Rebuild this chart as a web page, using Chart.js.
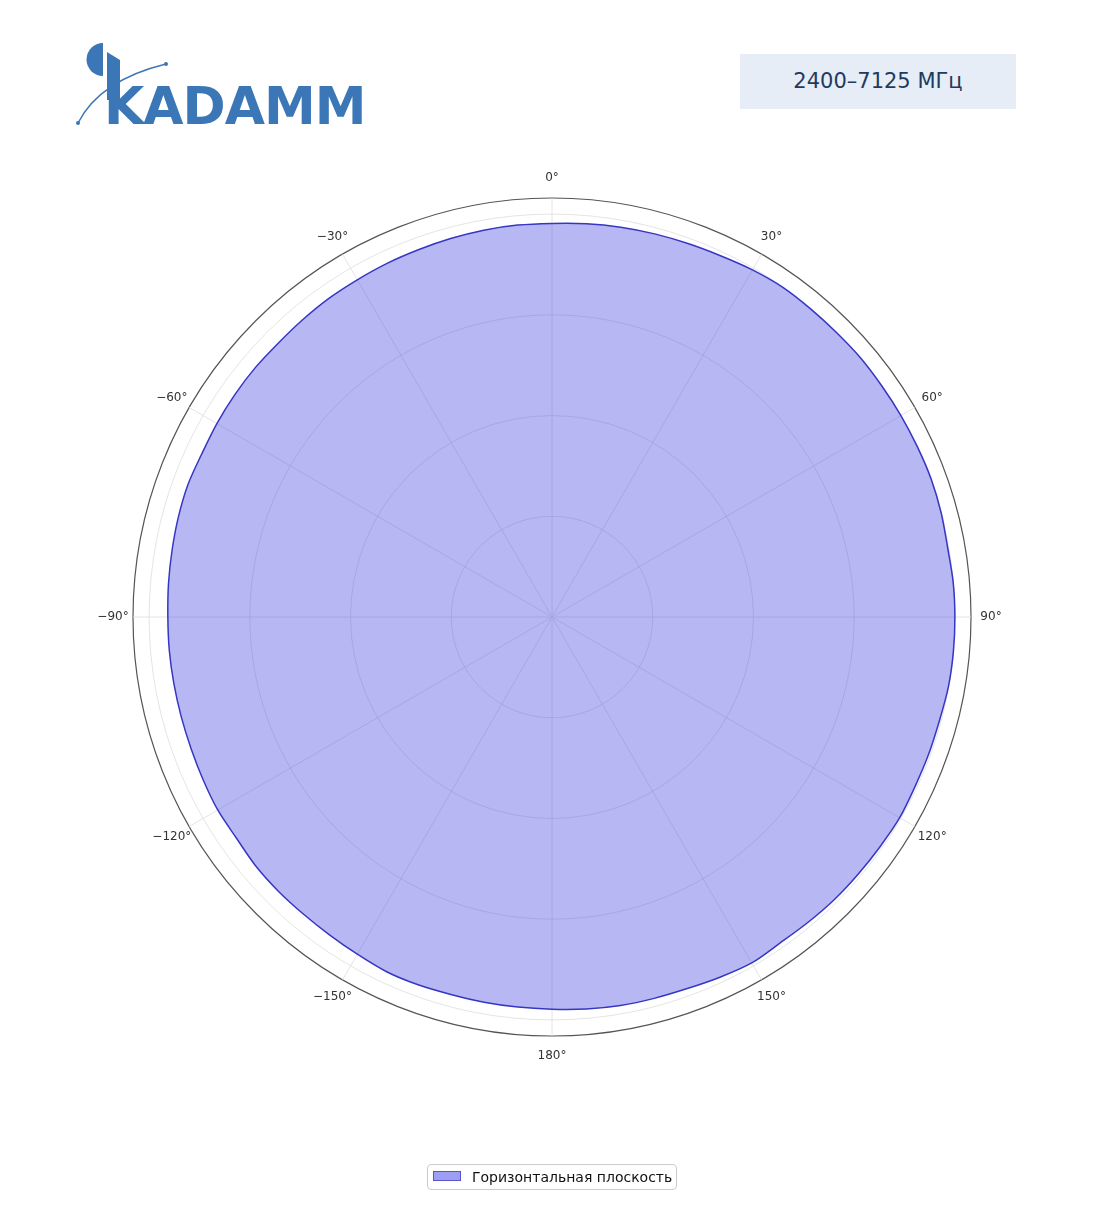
<!DOCTYPE html>
<html>
<head>
<meta charset="utf-8">
<script src="https://cdn.jsdelivr.net/npm/chart.js@4.4.1/dist/chart.umd.min.js"></script>
<style>
  body { margin: 0; width: 1104px; height: 1211px; position: relative; overflow: hidden; background: #fff; font-family: "DejaVu Sans", sans-serif; }
  #wrap { position: absolute; left: 0; top: 0; width: 1104px; height: 1211px; }
  #logo { position: absolute; left: 0; top: 0; width: 400px; height: 140px; }
  #logoText { position: absolute; left: 104px; top: 80px; font: bold 52px "DejaVu Sans", sans-serif; line-height: 1; color: #3b77b7; letter-spacing: -1px; }
  #title { position: absolute; left: 740px; top: 54px; width: 276px; height: 55px; background: #e6edf6; color: #1f3a5f; font-size: 21px; line-height: 55px; text-align: center; }
  #legend { position: absolute; left: 427px; top: 1164px; width: 248px; height: 24px; border: 1px solid #cccccc; border-radius: 4px; background: #fff; font-size: 14px; color: #111; }
  #legend .patch { position: absolute; left: 5px; top: 6px; width: 26px; height: 8px; background: #9d9df2; border: 1px solid #5656cf; }
  #legend .txt { position: absolute; left: 44px; top: 0; line-height: 24px; white-space: nowrap; }
</style>
</head>
<body>
<div id="wrap"><canvas id="chart"></canvas></div>

<svg id="logo" width="400" height="140">
  <path d="M103,43 A16.5,16.5 0 0 0 103,76 Z" fill="#3b77b7"/>
  <polygon points="107,52 120,60 120,100 107,100" fill="#3b77b7"/>
  <path d="M78,123 Q100,80 166,64" fill="none" stroke="#3b77b7" stroke-width="1.5"/>
  <circle cx="78" cy="123" r="2" fill="#3b77b7"/>
  <circle cx="166" cy="64" r="2" fill="#3b77b7"/>
</svg>
<div id="logoText">KADAMM</div>

<div id="title">2400–7125 МГц</div>

<div id="legend"><span class="patch"></span><span class="txt">Горизонтальная плоскость</span></div>

<script>
// azimuth, degrees (clockwise from top)
const angles = [0, 5, 10, 15, 20, 25, 30, 35, 40, 45, 50, 55,
  60, 65, 70, 75, 80, 85, 90, 95, 100, 105, 110, 115,
  120, 125, 130, 135, 140, 145, 150, 155, 160, 165, 170, 175,
  180, 185, 190, 195, 200, 205, 210, 215, 220, 225, 230, 235,
  240, 245, 250, 255, 260, 265, 270, 275, 280, 285, 290, 295,
  300, 305, 310, 315, 320, 325, 330, 335, 340, 345, 350, 355];

// normalized gain, dB
const gainHoriz = [-0.46, -0.40, -0.35, -0.31, -0.27, -0.21, -0.10, -0.02, -0.03, -0.03, 0.00, -0.01,
  0.00, 0.01, 0.03, 0.00, -0.06, -0.01, 0.00, 0.00, -0.02, -0.09, -0.10, -0.11,
  -0.07, -0.12, -0.15, -0.17, -0.22, -0.25, -0.17, -0.27, -0.37, -0.40, -0.42, -0.47,
  -0.53, -0.56, -0.58, -0.60, -0.57, -0.57, -0.67, -0.74, -0.77, -0.77, -0.79, -0.87,
  -0.84, -0.89, -0.93, -0.94, -0.94, -0.93, -0.93, -0.89, -0.85, -0.80, -0.77, -0.82,
  -0.79, -0.77, -0.76, -0.78, -0.74, -0.69, -0.67, -0.63, -0.60, -0.55, -0.50, -0.47];

const labelAngles = [0, 30, 60, 90, 120, 150, 180, 210, 240, 270, 300, 330];
const tickLabels = ['0°', '30°', '60°', '90°', '120°', '150°', '180°', '−150°', '−120°', '−90°', '−60°', '−30°'];

const rings = [-20, -15, -10, -5, 0, 0.8];
const rMin = -20;
const rMax = 0.8;

const angleLabels = {
  id: 'angleLabels',
  afterDraw(chart) {
    const s = chart.scales.r;
    const ctx = chart.ctx;
    ctx.save();
    ctx.font = '12px "DejaVu Sans"';
    ctx.fillStyle = '#333333';
    ctx.textAlign = 'center';
    ctx.textBaseline = 'middle';
    labelAngles.forEach((a, k) => {
      const p = s.getPointPosition(angles.indexOf(a), s.drawingArea + 20);
      ctx.fillText(tickLabels[k], p.x, p.y);
    });
    ctx.restore();
  }
};

new Chart(document.getElementById('chart'), {
  type: 'radar',
  data: {
    labels: angles.map(a => a + '°'),
    datasets: [{
      label: 'Горизонтальная плоскость',
      data: gainHoriz,
      fill: 'start',
      backgroundColor: 'rgba(70, 72, 225, 0.39)',
      borderColor: '#3636c4',
      borderWidth: 1.5,
      pointRadius: 0,
      tension: 0.3
    }]
  },
  options: {
    responsive: true,
    maintainAspectRatio: false,
    animation: false,
    layout: { padding: { top: 198, bottom: 175, left: 133, right: 133 } },
    plugins: { legend: { display: false }, tooltip: { enabled: false } },
    scales: {
      r: {
        min: rMin,
        max: rMax,
        startAngle: 0,
        afterBuildTicks: (s) => { s.ticks = rings.map(v => ({ value: v })); },
        ticks: { display: false },
        pointLabels: { display: false },
        grid: {
          circular: true,
          color: (c) => c.tick && c.tick.value === rMax ? '#555555' : (c.tick && c.tick.value === rMin ? 'transparent' : '#dddddd'),
          lineWidth: (c) => c.tick && c.tick.value === rMax ? 1.2 : 0.8
        },
        angleLines: {
          color: (c) => labelAngles.includes(angles[c.index]) ? '#dddddd' : 'transparent',
          lineWidth: (c) => labelAngles.includes(angles[c.index]) ? 0.8 : 0
        }
      }
    }
  },
  plugins: [angleLabels]
});
</script>
</body>
</html>
